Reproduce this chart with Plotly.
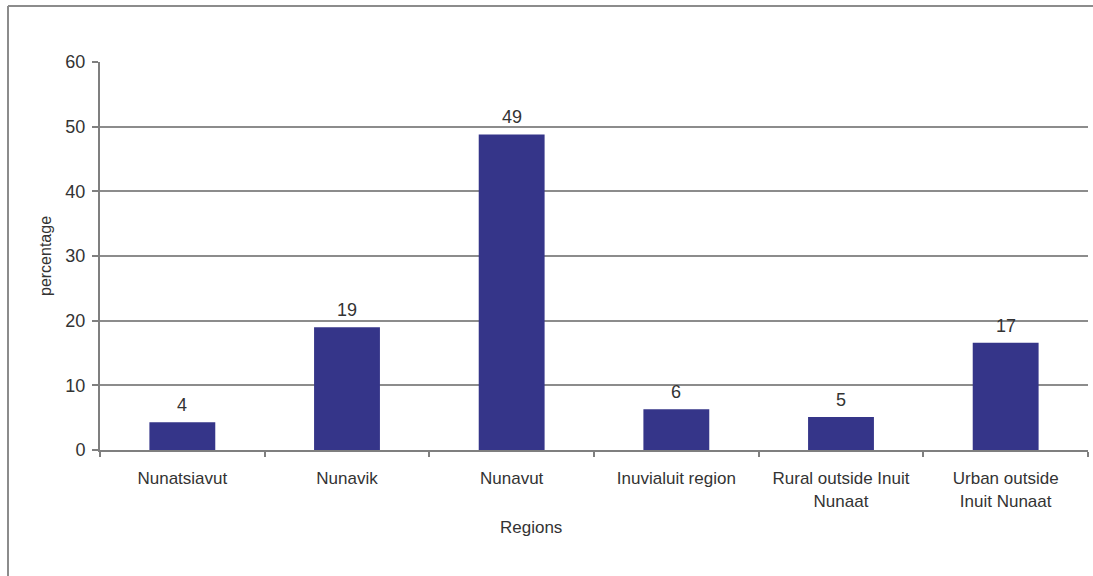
import plotly.graph_objects as go

categories = ["Nunatsiavut", "Nunavik", "Nunavut", "Inuvialuit region",
              "Rural outside Inuit<br>Nunaat", "Urban outside<br>Inuit Nunaat"]
values = [4.3, 19.0, 48.8, 6.3, 5.1, 16.6]
labels = ["4", "19", "49", "6", "5", "17"]
y_ticks = [0, 10, 20, 30, 40, 50, 60]

W, H = 1093, 576
L, R, T, B = 100, 5, 62, 126
pw, ph = W - L - R, H - T - B

FAM = "Liberation Sans, Arial"
COL = "#333333"

fig = go.Figure(go.Bar(
    x=categories, y=values,
    marker=dict(color="#353589", line=dict(width=0)),
))

fx0 = (8 - L) / pw
fx1 = (W + 20 - L) / pw
fy0 = -(H + 20 - T - ph) / ph
fy1 = 1 + (T - 6) / ph
frame = dict(color="#8c8c8c", width=2)

fig.update_layout(
    width=W, height=H, margin=dict(l=L, r=R, t=T, b=B),
    paper_bgcolor="white", plot_bgcolor="white",
    bargap=0.6, showlegend=False, font=dict(family=FAM, size=17, color=COL),
    xaxis=dict(showgrid=False, showline=True, linecolor="#7f7f7f", linewidth=2,
               ticks="outside", tickson="boundaries", ticklen=5, tickcolor="#7f7f7f",
               tickwidth=2, tickfont=dict(family=FAM, size=17, color=COL),
               ticklabelstandoff=12, automargin=False),
    yaxis=dict(range=[0, 60], tickvals=y_ticks, showgrid=True, gridcolor="#8c8c8c",
               gridwidth=2, showline=True, linecolor="#7f7f7f", linewidth=2,
               ticks="outside", ticklen=6, tickcolor="#7f7f7f", tickwidth=2,
               tickfont=dict(family=FAM, size=18, color=COL),
               ticklabelstandoff=3, zeroline=False, automargin=False),
    shapes=[
        dict(type="line", xref="paper", yref="paper", x0=fx0, x1=fx1, y0=fy1, y1=fy1, line=frame),
        dict(type="line", xref="paper", yref="paper", x0=fx0, x1=fx0, y0=fy0, y1=fy1, line=frame),
    ],
)

annotations = [
    dict(text="Regions", xref="paper", yref="paper", x=(531 - L) / pw,
         y=-(527 - T - ph) / ph, showarrow=False,
         font=dict(family=FAM, size=17, color=COL),
         xanchor="center", yanchor="middle"),
    dict(text="percentage", xref="paper", yref="paper", x=(45 - L) / pw,
         y=(T + ph - 256) / ph, showarrow=False,
         font=dict(family=FAM, size=16, color=COL),
         textangle=-90, xanchor="center", yanchor="middle"),
]
for c, v, t in zip(categories, values, labels):
    annotations.append(dict(x=c, y=v, text=t, showarrow=False, yshift=17,
                            xanchor="center", yanchor="middle",
                            font=dict(family=FAM, size=18, color=COL)))
fig.update_layout(annotations=annotations)
fig.write_html("out.html")
